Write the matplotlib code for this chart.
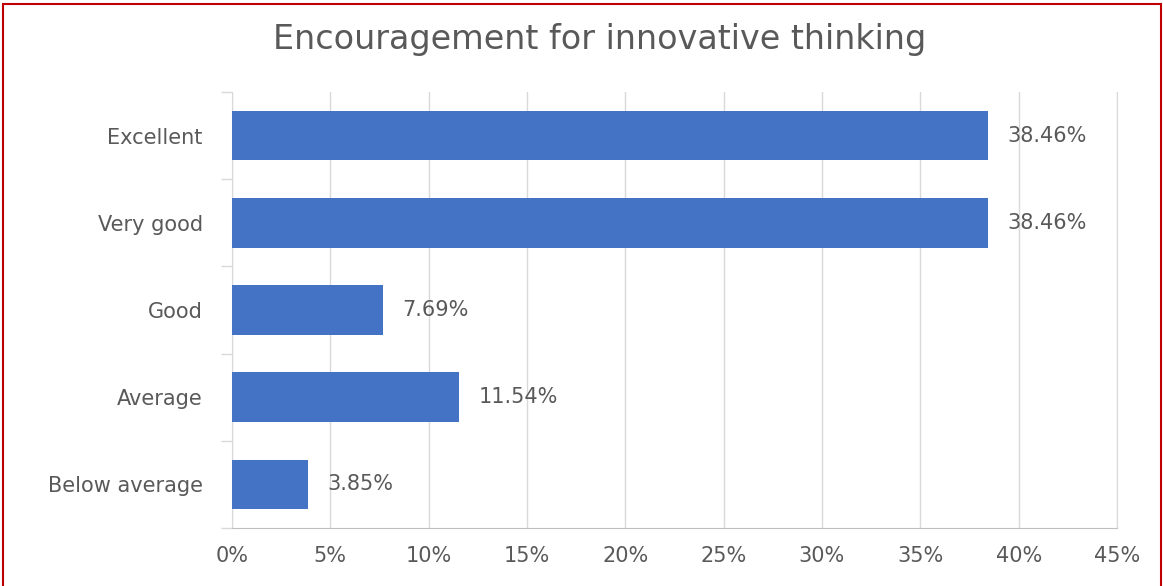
import matplotlib.pyplot as plt
from matplotlib.patches import Rectangle
from matplotlib.ticker import FixedLocator

# Chart data
categories = ['Excellent', 'Very good', 'Good', 'Average', 'Below average']
values = [38.46, 38.46, 7.69, 11.54, 3.85]
x_ticks = [0, 5, 10, 15, 20, 25, 30, 35, 40, 45]

text_color = '#595959'
bar_color = '#4472C4'
grid_color = '#D9D9D9'

W, H = 1163, 586
fig = plt.figure(figsize=(W / 100, H / 100), dpi=100)
ax = fig.add_axes([232 / W, 1 - 528 / H, (1117 - 232) / W, (528 - 92) / H])

y_pos = list(range(len(categories)))
ax.barh(y_pos, values, height=0.57, color=bar_color, zorder=3)
ax.set_ylim(len(categories) - 0.5, -0.5)
ax.set_xlim(0, 45)

for y, v in zip(y_pos, values):
    ax.annotate(f'{v:.2f}%', (v, y), xytext=(14, 0), textcoords='offset points',
                va='center', ha='left', fontsize=15, color=text_color)

ax.set_yticks(y_pos)
ax.set_yticklabels(categories, fontsize=15, color=text_color)
ax.tick_params(axis='y', which='major', length=0, pad=21)
ax.yaxis.set_minor_locator(FixedLocator([i - 0.5 for i in range(len(categories) + 1)]))
ax.tick_params(axis='y', which='minor', length=8, color=grid_color, width=1)

ax.set_xticks(x_ticks)
ax.set_xticklabels([f'{t}%' for t in x_ticks], fontsize=15, color=text_color)
ax.tick_params(axis='x', length=0, pad=13)

ax.grid(axis='x', color=grid_color, linewidth=1, zorder=0)
ax.spines['top'].set_visible(False)
ax.spines['right'].set_color(grid_color)
ax.spines['bottom'].set_color('#BFBFBF')
ax.spines['left'].set_color(grid_color)

fig.text(600 / W, 1 - 40 / H, 'Encouragement for innovative thinking',
         ha='center', va='center', fontsize=24, color=text_color)

# red frame round the chart
fig.patches.append(Rectangle((3 / W, -0.02), (1161 - 3) / W, 1 - 4 / H + 0.02,
                             transform=fig.transFigure, fill=False,
                             edgecolor='#C00000', linewidth=1.5))

fig.savefig('out.png', dpi=100)
